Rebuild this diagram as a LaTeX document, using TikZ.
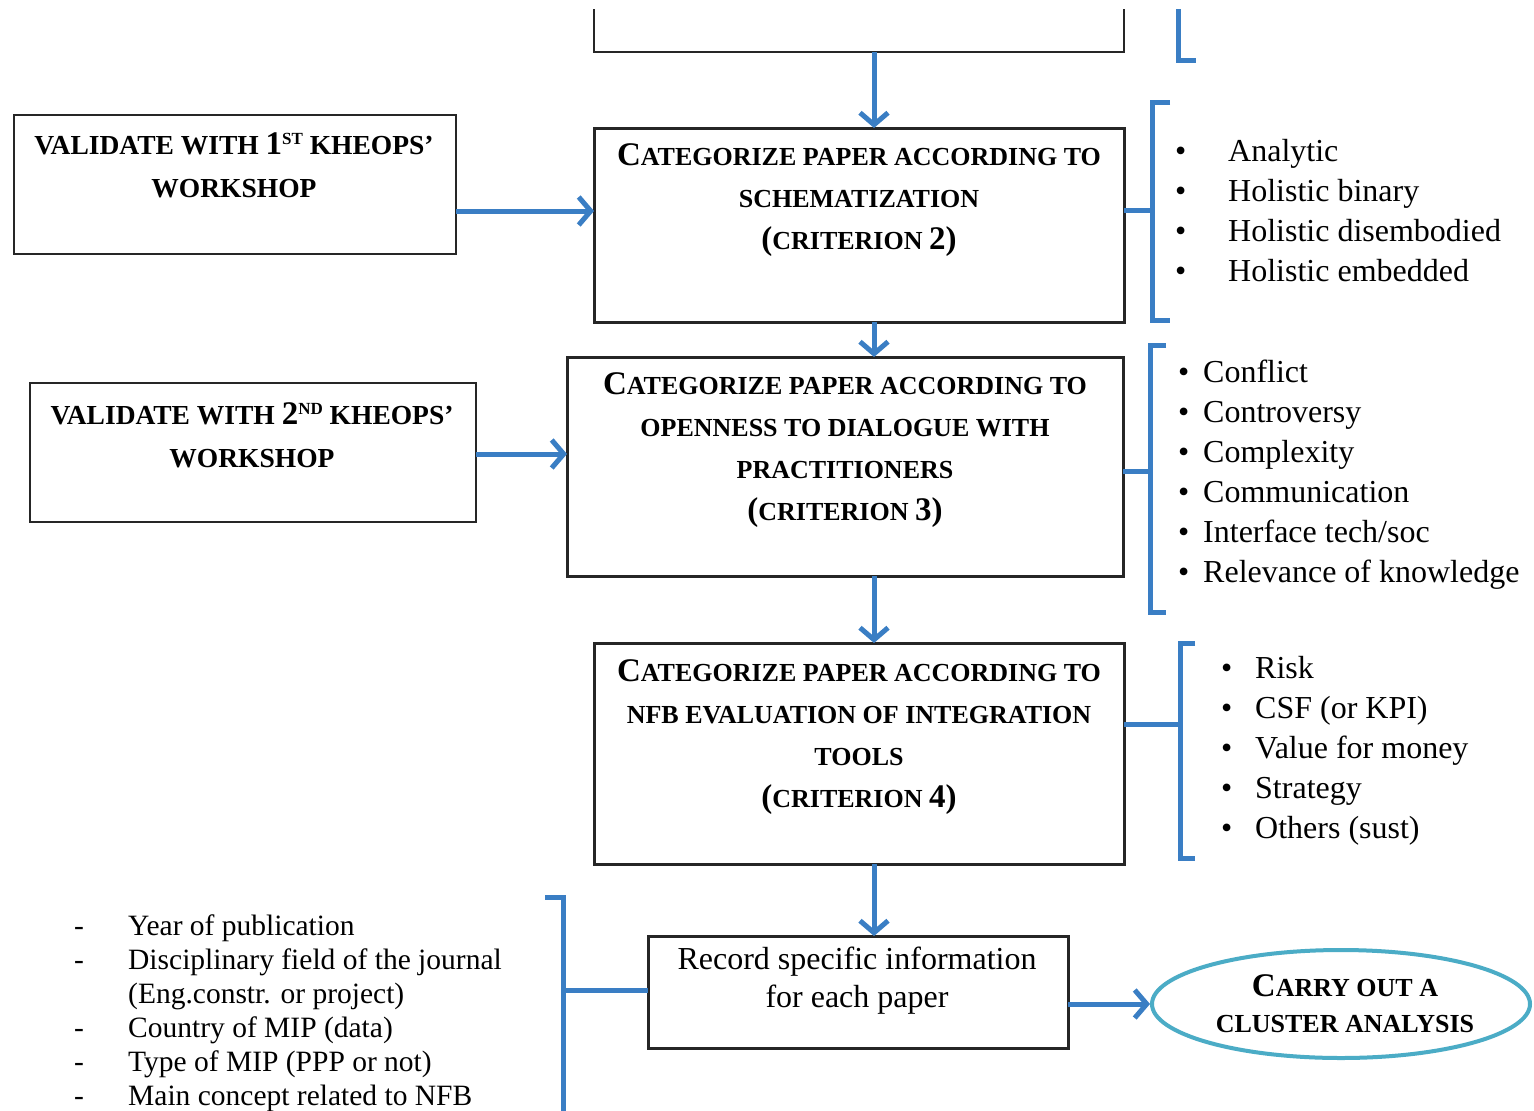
\documentclass[tikz,border=0pt]{standalone}
\usepackage{fontspec}
\setmainfont{Liberation Serif}
\usetikzlibrary{arrows.meta,shapes.geometric}
\definecolor{myblue}{RGB}{58,126,196}
\definecolor{myteal}{RGB}{75,172,198}
\newcommand\hdfont{\fontsize{26}{42}\selectfont\bfseries}
\newcommand\vdfont{\fontsize{27.5}{43}\selectfont\bfseries}
\newcommand\BG[1]{{\fontsize{33}{33}\selectfont #1}}
\newcommand\SUP[1]{\raisebox{10pt}{\fontsize{17}{17}\selectfont #1}}
\begin{document}
\begin{tikzpicture}[x=1pt,y=-1pt,
  arr/.style={draw=myblue,line width=5pt,-{Straight Barb[length=12pt,width=28pt]}},
  brk/.style={draw=myblue,line width=5pt},
  conn/.style={draw=myblue,line width=5pt},
  boxthick/.style={draw=black!85,line width=3pt,inner sep=0pt,outer sep=0pt},
  boxthin/.style={draw=black!85,line width=2pt,inner sep=0pt,outer sep=0pt},
  hd/.style={font=\hdfont,align=center,inner sep=0pt},
  vd/.style={font=\vdfont,align=center,inner sep=0pt},
  lst/.style={font=\fontsize{32}{40}\selectfont,align=left,inner sep=0pt,anchor=west},
  lstl/.style={font=\fontsize{29.5}{34}\selectfont,align=left,inner sep=0pt,anchor=west}]
\useasboundingbox (0,0) rectangle (1534,1111);
\fill[white] (0,0) rectangle (1534,1111);
% top partial box
\draw[draw=black!85,line width=2pt] (594,9) -- (594,52) -- (1124,52) -- (1124,9);
\coordinate (b0s) at (874,52);
\coordinate (ax) at (874,0);
\draw[brk] (1178,9) -- (1178,60) -- (1196,60);
% boxes
\node[boxthin,minimum width=442,minimum height=139] (b1) at (235,184.5) {};
\node[vd] (t1) at (234,165) {VALIDATE WITH \BG{1}\SUP{ST} KHEOPS’\\WORKSHOP};
\node[boxthick,minimum width=530,minimum height=194] (b2) at (859,225) {};
\node[hd] (t2) at (859,200) {\BG{C}ATEGORIZE PAPER ACCORDING TO\\SCHEMATIZATION\\\BG{(}CRITERION \BG{2)}};
\node[boxthin,minimum width=446,minimum height=139] (v2) at (253,452.5) {};
\node[vd] (tv2) at (252,435) {VALIDATE WITH \BG{2}\SUP{ND} KHEOPS’\\WORKSHOP};
\node[boxthick,minimum width=556,minimum height=219] (b3) at (845,466.5) {};
\node[hd] (t3) at (845,450) {\BG{C}ATEGORIZE PAPER ACCORDING TO\\OPENNESS TO DIALOGUE WITH\\PRACTITIONERS\\\BG{(}CRITERION \BG{3)}};
\node[boxthick,minimum width=530,minimum height=221] (b4) at (859,753.5) {};
\node[hd] (t4) at (859,737) {\BG{C}ATEGORIZE PAPER ACCORDING TO\\NFB EVALUATION OF INTEGRATION\\TOOLS\\\BG{(}CRITERION \BG{4)}};
\node[boxthick,minimum width=420,minimum height=112] (b5) at (858,992) {};
\node[align=center,inner sep=0pt,font=\fontsize{32}{38}\selectfont] (t5) at (857,981) {Record specific information\\for each paper};
\node[draw=myteal,line width=4pt,ellipse,minimum width=378,minimum height=108,inner sep=0pt] (el) at (1341,1004) {};
\node[hd,font=\fontsize{26}{36}\selectfont\bfseries] (tel) at (1345,1004) {\BG{C}ARRY OUT A\\CLUSTER ANALYSIS};
% vertical arrows
\draw[arr] (b0s) -- (ax |- b2.north);
\draw[arr] (ax |- b2.south) -- (ax |- b3.north);
\draw[arr] (ax |- b3.south) -- (ax |- b4.north);
\draw[arr] (ax |- b4.south) -- (ax |- b5.north);
% horizontal arrows
\coordinate (h1) at (0,211);
\coordinate (h2) at (0,454);
\coordinate (h3) at (0,1004);
\draw[arr] (b1.east |- h1) -- (b2.west |- h1);
\draw[arr] (v2.east |- h2) -- (b3.west |- h2);
\draw[arr] (b5.east |- h3) -- (el.west);
% brackets
\draw[brk] (1170,102) -- (1152,102) -- (1152,320) -- (1170,320);
\coordinate (k1) at (1152,210);
\draw[conn] (b2.east |- k1) -- (k1);
\draw[brk] (1166,345) -- (1150,345) -- (1150,612) -- (1166,612);
\coordinate (k2) at (1150,471);
\draw[conn] (b3.east |- k2) -- (k2);
\draw[brk] (1195,643) -- (1180,643) -- (1180,858) -- (1195,858);
\coordinate (k3) at (1180,724);
\draw[conn] (b4.east |- k3) -- (k3);
\draw[brk] (545,897) -- (563,897) -- (563,1115);
\coordinate (k4) at (563,990);
\draw[conn] (k4) -- (b5.west |- k4);
% lists
\node[lst] (l1) at (1175,211) {\makebox[53pt][l]{•}Analytic\\\makebox[53pt][l]{•}Holistic binary\\\makebox[53pt][l]{•}Holistic disembodied\\\makebox[53pt][l]{•}Holistic embedded};
\node[lst] (l2) at (1178,475) {\makebox[25pt][l]{•}Conflict\\\makebox[25pt][l]{•}Controversy\\\makebox[25pt][l]{•}Complexity\\\makebox[25pt][l]{•}Communication\\\makebox[25pt][l]{•}Interface tech/soc\\\makebox[25pt][l]{•}Relevance of knowledge};
\node[lst] (l3) at (1221,751) {\makebox[34pt][l]{•}Risk\\\makebox[34pt][l]{•}CSF (or KPI)\\\makebox[34pt][l]{•}Value for money\\\makebox[34pt][l]{•}Strategy\\\makebox[34pt][l]{•}Others (sust)};
\node[lstl] (l4) at (74,1013) {\makebox[54pt][l]{-}Year of publication\\\makebox[54pt][l]{-}Disciplinary field of the journal\\\makebox[54pt][l]{}(Eng.constr. or project)\\\makebox[54pt][l]{-}Country of MIP (data)\\\makebox[54pt][l]{-}Type of MIP (PPP or not)\\\makebox[54pt][l]{-}Main concept related to NFB};
\end{tikzpicture}
\end{document}
